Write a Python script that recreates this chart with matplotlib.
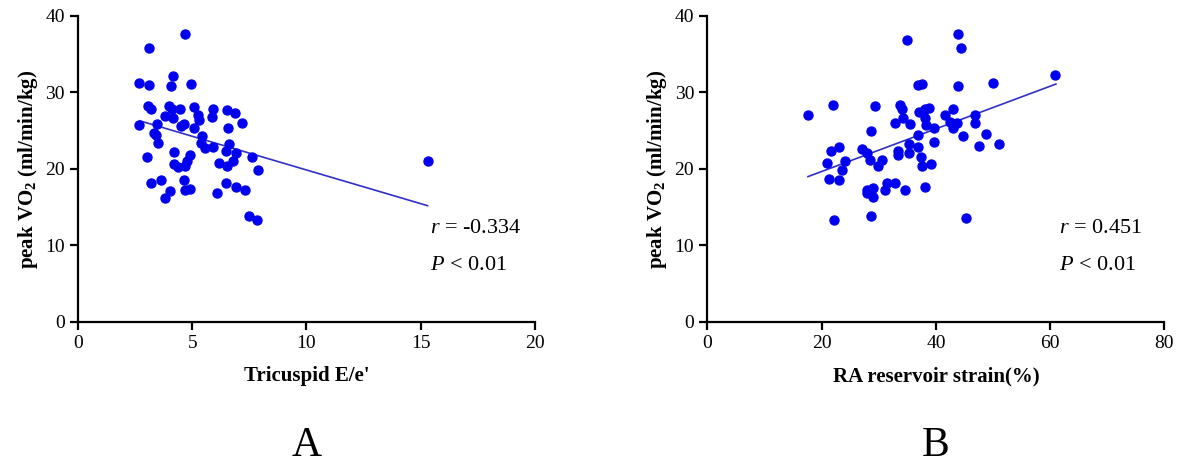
import matplotlib
matplotlib.use("Agg")
import matplotlib.pyplot as plt

plt.rcParams["font.family"] = "Liberation Serif"
plt.rcParams["mathtext.fontset"] = "custom"
plt.rcParams["mathtext.rm"] = "Liberation Serif"
plt.rcParams["mathtext.it"] = "Liberation Serif:italic"
plt.rcParams["mathtext.bf"] = "Liberation Serif:bold"

# panel A: tricuspid E/e' vs peak VO2
ax_a = [4.68,3.12,2.67,3.12,4.17,4.07,4.94,3.05,3.2,3.97,4.12,4.45,5.06,5.25,5.91,6.52,6.86,
        3.79,4.15,4.62,4.52,5.06,5.28,5.87,6.55,7.18,2.67,3.47,3.32,3.4,3.5,5.45,5.4,5.55,5.91,
        6.61,6.5,6.9,4.19,4.92,4.77,4.7,4.19,4.4,6.19,6.52,6.8,7.6,7.9,3.02,3.2,3.63,4.03,3.79,
        4.62,4.7,4.9,6.09,6.48,6.93,7.3,7.47,7.84,15.3]
ay_a = [37.7,35.8,31.2,31.0,32.1,30.8,31.1,28.2,27.8,28.2,27.9,27.8,28.1,27.1,27.8,27.7,27.3,
        26.9,26.7,25.9,25.6,25.3,26.4,26.8,25.4,26.0,25.8,25.9,24.7,24.5,23.4,24.3,23.4,22.7,22.9,
        23.3,22.3,22.1,22.2,21.8,21.1,20.4,20.7,20.2,20.8,20.4,21.1,21.5,19.9,21.5,18.2,18.6,17.1,16.2,
        18.6,17.3,17.4,16.9,18.2,17.6,17.3,13.8,13.3,21.0]
fit_a = ([2.7, 15.3], [26.3, 15.2])

# panel B: RA reservoir strain vs peak VO2
bx = [43.8,34.9,44.4,60.8,50.0,36.8,37.6,43.8,17.6,22.0,29.4,33.7,34.0,37.0,38.0,38.7,41.5,42.9,
      46.9,46.9,32.8,34.2,35.5,38.0,38.2,39.6,42.4,43.6,42.9,28.7,36.8,44.8,48.8,51.0,47.5,39.6,
      23.1,21.6,27.1,28.0,35.3,36.8,33.4,35.2,33.4,37.4,21.0,24.0,28.4,30.6,29.8,23.6,39.1,37.5,
      21.3,23.1,28.0,28.9,28.0,29.0,31.1,31.5,32.8,34.6,38.1,22.2,28.6,45.2]
by = [37.7,36.8,35.8,32.3,31.2,31.0,31.1,30.9,27.0,28.3,28.2,28.4,27.8,27.5,27.9,28.0,27.1,27.8,
      27.0,26.0,26.0,26.6,25.9,26.7,25.7,25.4,26.2,26.0,25.3,25.0,24.4,24.3,24.6,23.2,23.0,23.5,
      22.9,22.3,22.6,22.1,23.2,22.9,22.3,22.1,21.8,21.5,20.8,21.0,21.2,21.2,20.4,19.9,20.7,20.4,
      18.7,18.6,17.3,17.5,16.9,16.3,17.3,18.2,18.2,17.2,17.6,13.3,13.8,13.6]
fit_b = ([17.6, 61.0], [19.0, 31.1])

fig = plt.figure(figsize=(11.81, 4.7), dpi=100)
axA = fig.add_axes([0.066, 0.315, 0.387, 0.651])
axB = fig.add_axes([0.599, 0.315, 0.387, 0.651])

panels = [
    (axA, ax_a, ay_a, fit_a, 20, [0, 5, 10, 15, 20], "Tricuspid E/e'", "-0.334", "A"),
    (axB, bx, by, fit_b, 80, [0, 20, 40, 60, 80], "RA reservoir strain(%)", "0.451", "B"),
]
for ax, x, y, fit, xmax, xt, xlab, r, tag in panels:
    ax.scatter(x, y, s=42, color="#0000ee", zorder=3)
    ax.plot(fit[0], fit[1], color="#3030c8", lw=1.2)
    ax.set_xlim(0, xmax)
    ax.set_ylim(0, 40)
    ax.set_xticks(xt)
    ax.set_yticks([0, 10, 20, 30, 40])
    for s in ["top", "right"]:
        ax.spines[s].set_visible(False)
    for s in ["left", "bottom"]:
        ax.spines[s].set_linewidth(1.6)
    ax.tick_params(width=1.6, length=6, labelsize=14)
    ax.set_xlabel(xlab, fontsize=15, fontweight="bold", labelpad=10)
    ax.set_ylabel("peak VO$_\\mathbf{2}$ (ml/min/kg)", fontsize=15, fontweight="bold")
    ax.text(0.77, 0.29, "$\\it{r}$ = " + r, transform=ax.transAxes, fontsize=16)
    ax.text(0.77, 0.17, "$\\it{P}$ < 0.01", transform=ax.transAxes, fontsize=16)
    pos = ax.get_position()
    fig.text((pos.x0 + pos.x1) / 2, 0.03, tag, ha="center", fontsize=30)

fig.savefig("out.png", dpi=100)
